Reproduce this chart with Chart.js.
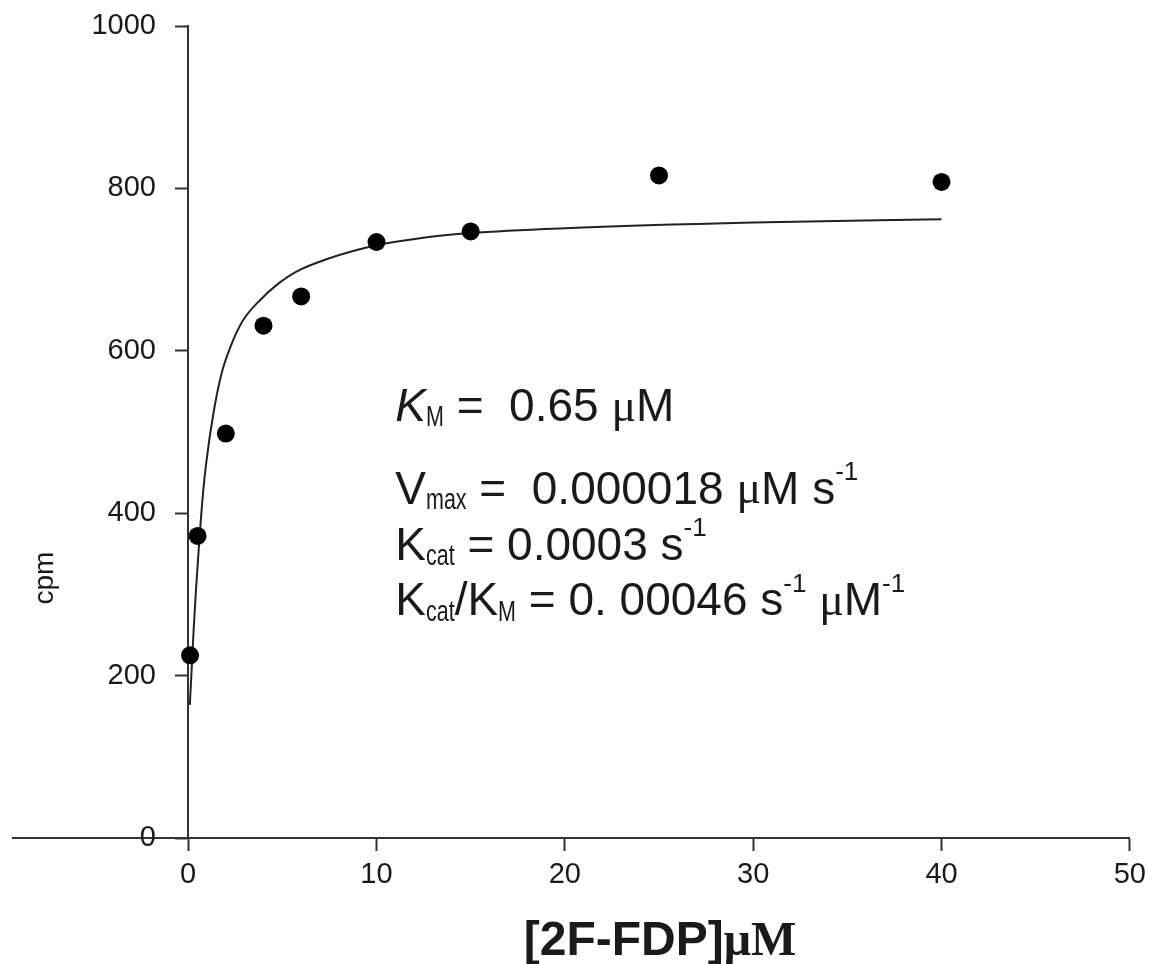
<!DOCTYPE html>
<html>
<head>
<meta charset="utf-8">
<script src="https://cdn.jsdelivr.net/npm/chart.js@4.4.0/dist/chart.umd.min.js"></script>
<style>
  html, body { margin: 0; padding: 0; background: #fff; }
  #wrap { width: 1154px; height: 964px; }
</style>
</head>
<body>
<div id="wrap"><canvas id="kinetics" width="1154" height="964"></canvas></div>
<script>
// measured points: substrate concentration (uM) vs counts
const substrate = [0.1, 0.5, 2, 4, 6, 10, 15, 25, 40];
const counts = [225, 372, 498, 631, 667, 734, 747, 816, 808];

// fitted Michaelis-Menten curve, read along its path
const fitX = [0.09, 0.2, 0.3, 0.4, 0.53, 0.61, 0.79, 0.96, 1.32, 1.75, 2.3, 2.9, 3.8, 4.8, 5.7, 7.5, 10, 12.4, 15, 20, 30, 40];
const fitY = [164, 215, 260, 300, 345, 372, 425, 462, 520, 570, 608, 637, 662, 683, 697, 714, 730, 739, 745, 751, 758, 762];

const xTicks = [0, 10, 20, 30, 40, 50];
const yTicks = [0, 200, 400, 600, 800, 1000];

const SANS = '"Liberation Sans", Arial, sans-serif';
const SERIF = '"Liberation Serif", "Times New Roman", serif';
const INK = '#1a1a1a';

// draws a run of text pieces; sub/sup pieces are smaller, shifted and squeezed a bit
function drawRuns(ctx, x, y, runs) {
  let cx = x;
  runs.forEach(r => {
    ctx.save();
    ctx.font = r.font;
    const sx = r.squeeze || 1;
    ctx.translate(cx, y + (r.dy || 0));
    ctx.scale(sx, 1);
    ctx.fillText(r.t, 0, 0);
    cx += ctx.measureText(r.t).width * sx;
    ctx.restore();
  });
  return cx;
}

const big = '46px ' + SANS;
const bigIt = 'italic 46px ' + SANS;
const mu = '46px ' + SERIF;
const sub = (t) => ({ t: t, font: '29px ' + SANS, dy: 10, squeeze: 0.74 });
const sup = (t) => ({ t: t, font: '26px ' + SANS, dy: -18 });

const kineticLines = [
  { yVal: 529, runs: [{ t: 'K', font: bigIt }, sub('M'), { t: ' =  0.65 ', font: big }, { t: 'μ', font: mu }, { t: 'M', font: big }] },
  { yVal: 427, runs: [{ t: 'V', font: big }, sub('max'), { t: ' =  0.000018 ', font: big }, { t: 'μ', font: mu }, { t: 'M s', font: big }, sup('-1')] },
  { yVal: 358, runs: [{ t: 'K', font: big }, sub('cat'), { t: ' = 0.0003 s', font: big }, sup('-1')] },
  { yVal: 290, runs: [{ t: 'K', font: big }, sub('cat'), { t: '/K', font: big }, sub('M'), { t: ' = 0. 00046 s', font: big }, sup('-1'), { t: ' ', font: big }, { t: 'μ', font: mu }, { t: 'M', font: big }, sup('-1')] }
];

const labelsPlugin = {
  id: 'labels',
  afterDraw(chart) {
    const ctx = chart.ctx;
    const xs = chart.scales.x, ys = chart.scales.y;
    ctx.save();
    ctx.fillStyle = INK;
    ctx.textBaseline = 'middle';
    ctx.textAlign = 'left';
    const left = xs.getPixelForValue(11);
    kineticLines.forEach(line => drawRuns(ctx, left, ys.getPixelForValue(line.yVal), line.runs));

    // x axis title
    ctx.textBaseline = 'alphabetic';
    const f1 = 'bold 48px ' + SANS, f2 = 'bold 48px ' + SERIF;
    ctx.font = f1;
    const w1 = ctx.measureText('[2F-FDP]').width;
    ctx.font = f2;
    const w2 = ctx.measureText('μM').width;
    drawRuns(ctx, 660 - (w1 + w2) / 2, 955, [{ t: '[2F-FDP]', font: f1 }, { t: 'μM', font: f2 }]);

    // y axis title
    ctx.translate(45, 578);
    ctx.rotate(-Math.PI / 2);
    ctx.textAlign = 'center';
    ctx.textBaseline = 'middle';
    ctx.font = '28px ' + SANS;
    ctx.fillText('cpm', 0, 0);
    ctx.restore();
  }
};

new Chart(document.getElementById('kinetics'), {
  type: 'scatter',
  data: {
    datasets: [
      {
        label: 'data',
        data: substrate.map((s, i) => ({ x: s, y: counts[i] })),
        pointRadius: 9,
        pointBackgroundColor: '#000',
        pointBorderWidth: 0,
        showLine: false
      },
      {
        label: 'fit',
        type: 'line',
        data: fitX.map((s, i) => ({ x: s, y: fitY[i] })),
        borderColor: '#222',
        borderWidth: 2,
        pointRadius: 0,
        cubicInterpolationMode: 'monotone',
        fill: false
      }
    ]
  },
  options: {
    responsive: false,
    animation: false,
    layout: { padding: { left: 13, right: 19, top: 26, bottom: 126 } },
    plugins: { legend: { display: false }, tooltip: { enabled: false } },
    scales: {
      x: {
        type: 'linear',
        min: -9.3,
        max: 50,
        position: { y: 0 },
        afterBuildTicks: s => { s.ticks = xTicks.map(v => ({ value: v })); },
        grid: { drawOnChartArea: false, drawTicks: true, tickLength: 12, tickWidth: 2, tickColor: '#333' },
        border: { display: true, color: '#333', width: 2 },
        ticks: { color: INK, font: { family: SANS, size: 29 }, padding: 8, maxRotation: 0, callback: v => String(v) }
      },
      y: {
        type: 'linear',
        min: 0,
        max: 1000,
        position: { x: 0 },
        afterBuildTicks: s => { s.ticks = yTicks.map(v => ({ value: v })); },
        grid: { drawOnChartArea: false, drawTicks: true, tickLength: 12, tickWidth: 2, tickColor: '#333' },
        border: { display: true, color: '#333', width: 2 },
        // labels of a value-positioned y axis sit right on the line, so pad them with spaces
        ticks: { color: INK, font: { family: SANS, size: 29 }, callback: v => String(v) + '    ' }
      }
    }
  },
  plugins: [labelsPlugin]
});
</script>
</body>
</html>
